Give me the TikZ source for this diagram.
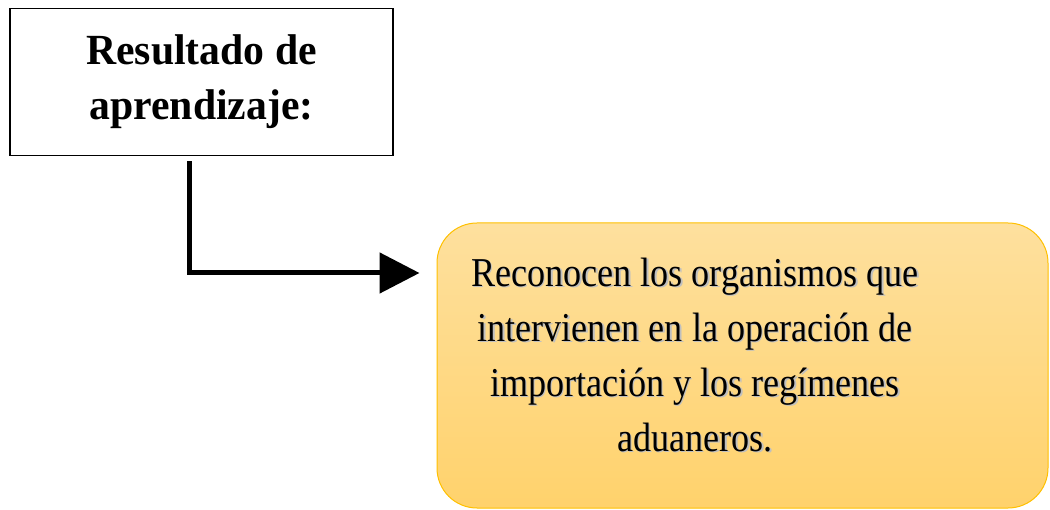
\documentclass[tikz,border=0pt]{standalone}
\usepackage{fontspec}
\setmainfont{Liberation Serif}
\usetikzlibrary{positioning, arrows.meta, calc}

\definecolor{goldline}{RGB}{255,192,0}
\definecolor{goldtop}{RGB}{254,224,158}
\definecolor{goldbot}{RGB}{255,210,108}

\begin{document}
\begin{tikzpicture}[x=1pt, y=-1pt,
    resbox/.style={draw, line width=1.3pt, minimum width=383pt, minimum height=147pt,
      align=center, font=\fontsize{43}{55}\selectfont\bfseries\addfontfeature{FakeStretch=0.97}},
    objbox/.style={draw=goldline, line width=1pt, rounded corners=40pt,
      top color=goldtop, bottom color=goldbot, minimum width=611pt, minimum height=285pt},
    objtext/.style={align=center, font=\fontsize{41}{55}\selectfont\addfontfeature{FakeStretch=0.88}},
    link/.style={line width=5pt, -{Triangle[length=40pt, width=40pt]}}]
  \useasboundingbox (0,0) rectangle (1050,510);

  % Resultado de aprendizaje
  \node[resbox] (res) at (201.5,82) {Resultado de\\aprendizaje:};

  % Caja con el resultado
  \node[objbox] (obj) at (742.5,365.5) {};
  \node[objtext, text=black!25] (objshadow) at (696.5,356.5) {Reconocen los organismos que\\intervienen en la operación de\\importación y los regímenes\\aduaneros.};
  \node[objtext] (objtxt) at (695,355) {Reconocen los organismos que\\intervienen en la operación de\\importación y los regímenes\\aduaneros.};

  \draw[link] ([xshift=-12.5pt, yshift=-5pt]res.south) |- ([xshift=-17pt]obj.west |- 0,273);
\end{tikzpicture}
\end{document}
